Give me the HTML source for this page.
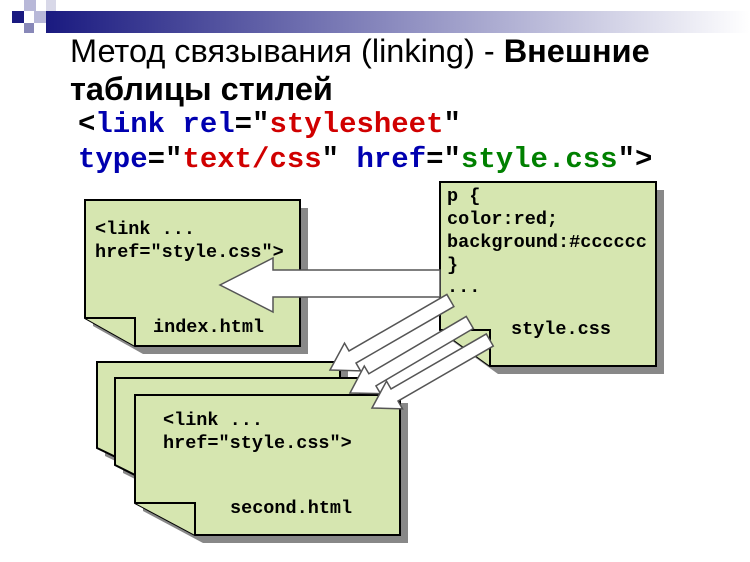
<!DOCTYPE html>
<html><head><meta charset="utf-8"><style>
body{margin:0;background:#fff;width:750px;height:562px;overflow:hidden}
svg{display:block}
.t{font-family:"Liberation Sans","DejaVu Sans",sans-serif;font-size:32.5px;fill:#000}
.c{font-family:"Liberation Mono",monospace;font-size:29px;font-weight:bold}
.m{font-family:"Liberation Mono",monospace;font-size:18.5px;font-weight:bold;fill:#000}
</style></head><body>
<svg width="750" height="562" viewBox="0 0 750 562">
<defs><linearGradient id="g" x1="0" x2="1"><stop offset="0" stop-color="#1a1a80"/><stop offset="1" stop-color="#fff"/></linearGradient></defs>
<rect x="46" y="11" width="704" height="22" fill="url(#g)"/>
<rect x="12" y="11" width="12" height="12" fill="#1a1a80"/>
<rect x="24" y="0" width="12" height="11" fill="#b8b8d8"/>
<rect x="34" y="11" width="12" height="12" fill="#b8b8d8"/>
<rect x="24" y="23" width="10" height="10" fill="#8888b8"/>
<rect x="46" y="0" width="10" height="11" fill="#d8d8e8"/>
<text class="t" x="70" y="62">Метод связывания (linking) - <tspan font-weight="bold">Внешние</tspan></text>
<text class="t" x="70" y="100" font-weight="bold">таблицы стилей</text>
<text class="c" x="78" y="132"><tspan>&lt;</tspan><tspan fill="#0000b0">link rel</tspan><tspan>="</tspan><tspan fill="#d00000">stylesheet</tspan><tspan>"</tspan></text>
<text class="c" x="78" y="167"><tspan fill="#0000b0">type</tspan><tspan>="</tspan><tspan fill="#d00000">text/css</tspan><tspan>" </tspan><tspan fill="#0000b0">href</tspan><tspan>="</tspan><tspan fill="#008000">style.css</tspan><tspan>"&gt;</tspan></text>

<g stroke="#000" stroke-width="2" fill="#d6e6b0">
<path d="M93 208H308V354H143L93 326Z" fill="#888" stroke="none"/>
<path d="M85 200H300V346H135L85 318Z"/>
<path d="M85 318H135V346" fill="#d6e6b0"/>
<path d="M448 190H664V374H498L448 338Z" fill="#888" stroke="none"/>
<path d="M440 182H656V366H490L440 330Z"/>
<path d="M440 330H490V366"/>
<path d="M105 370H348V480H155L105 456Z" fill="#888" stroke="none"/>
<path d="M97 362H340V472H147L97 448Z"/>
<path d="M123 386H368V498H173L123 473Z" fill="#888" stroke="none"/>
<path d="M115 378H360V490H165L115 465Z"/>
<path d="M143 403H408V543H203L143 511Z" fill="#888" stroke="none"/>
<path d="M135 395H400V535H195L135 503Z"/>
<path d="M135 503H195V535"/>
</g>
<g stroke="#555" stroke-width="1.5" fill="#fff">
<path d="M440 270V297H273V312L220 285L273 258V270Z"/>
<path transform="translate(330,370) rotate(-30)" d="M0 0L26 -16L26 -7L139 -7L139 7L26 7L26 16Z"/>
<path transform="translate(350,393) rotate(-30.5)" d="M0 0L26 -16L26 -7L139 -7L139 7L26 7L26 16Z"/>
<path transform="translate(372,408) rotate(-30)" d="M0 0L26 -16L26 -7L136 -7L136 7L26 7L26 16Z"/>
</g>
<text class="m" x="95" y="234">&lt;link ...</text>
<text class="m" x="95" y="257">href="style.css"&gt;</text>
<text class="m" x="153" y="332">index.html</text>
<text class="m" x="447" y="201">p {</text>
<text class="m" x="447" y="224">color:red;</text>
<text class="m" x="447" y="247">background:#cccccc</text>
<text class="m" x="447" y="270">}</text>
<text class="m" x="447" y="292">...</text>
<text class="m" x="511" y="334">style.css</text>
<text class="m" x="163" y="425">&lt;link ...</text>
<text class="m" x="163" y="448">href="style.css"&gt;</text>
<text class="m" x="230" y="513">second.html</text>
</svg>
</body></html>
